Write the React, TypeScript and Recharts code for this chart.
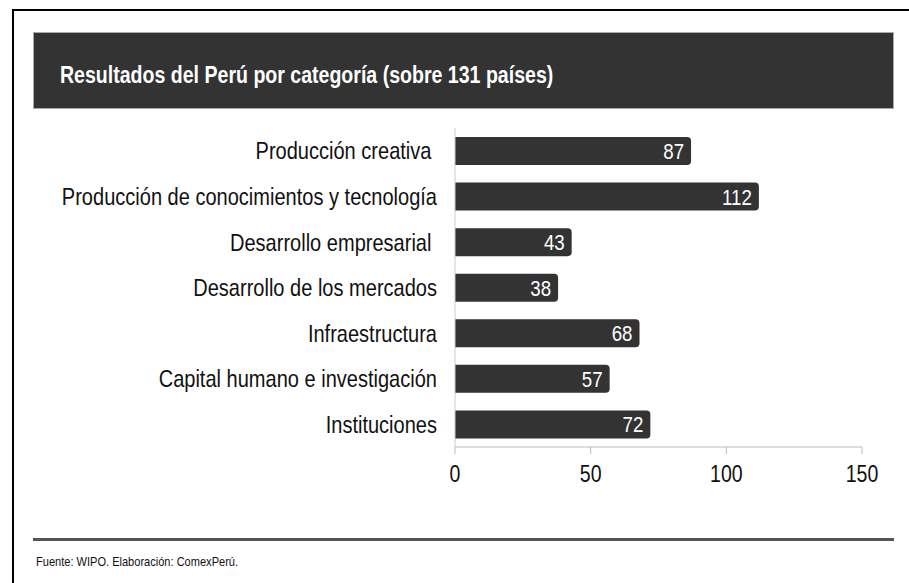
import React from 'react';
import { BarChart, Bar, XAxis, YAxis, LabelList } from 'recharts';

const categories = [
  'Producción creativa\u00a0',
  'Producción de conocimientos y tecnología',
  'Desarrollo empresarial\u00a0',
  'Desarrollo de los mercados',
  'Infraestructura',
  'Capital humano e investigación',
  'Instituciones',
];
const ranks = [87, 112, 43, 38, 68, 57, 72];
const xTicks = [0, 50, 100, 150];
const title = 'Resultados del Perú por categoría (sobre 131 países)';
const source = 'Fuente: WIPO. Elaboración: ComexPerú.';

const data = categories.map((c, i) => ({ name: c, value: ranks[i] }));

const FONT = '"Liberation Sans", Arial, sans-serif';
const SX = 0.85;

const YTick = (props: any) => {
  const { x, y, payload } = props;
  return (
    <g transform={`translate(${x},${y})`}>
      <text transform="scale(0.835,1)" textAnchor="end" dy="0.36em" fontSize={24} fontFamily={FONT} fill="#111">
        {payload.value}
      </text>
    </g>
  );
};

const XTick = (props: any) => {
  const { x, y, payload } = props;
  return (
    <g transform={`translate(${x},${y})`}>
      <text transform={`scale(${SX},1)`} textAnchor="middle" dy="0.71em" fontSize={23} fontFamily={FONT} fill="#111">
        {payload.value}
      </text>
    </g>
  );
};

const ValueLabel = (props: any) => {
  const { x, y, width, height, value } = props;
  const tx = x + width - 7;
  const ty = y + height / 2;
  return (
    <g transform={`translate(${tx},${ty})`}>
      <text transform={`scale(${SX},1)`} textAnchor="end" dy="0.36em" fontSize={22} fontFamily={FONT} fill="#fff">
        {value}
      </text>
    </g>
  );
};

export default function App() {
  return (
    <div style={{ position: 'absolute', left: 0, top: 0, width: 909, height: 583, background: '#fff', overflow: 'hidden', fontFamily: FONT }}>
      <div style={{ position: 'absolute', left: 12, top: 9, width: 920, height: 600, borderLeft: '2px solid #000', borderTop: '2px solid #000' }} />
      <div style={{ position: 'absolute', left: 33, top: 32, width: 859, height: 75, background: '#333', border: '1px solid #aaa' }} />
      <div style={{ position: 'absolute', left: 60, top: 62, color: '#fff', fontWeight: 'bold', fontSize: 23, lineHeight: '26px', whiteSpace: 'nowrap', transform: `scaleX(${SX})`, transformOrigin: 'left center' }}>{title}</div>
      <div style={{ position: 'absolute', left: 0, top: 0 }}>
        <BarChart width={909} height={583} data={data} layout="vertical" margin={{ top: 128, right: 47, bottom: 106, left: 0 }}>
          <XAxis
            type="number"
            domain={[0, 150]}
            ticks={xTicks}
            interval={0}
            axisLine={{ stroke: '#bbb' }}
            tickLine={{ stroke: '#bbb' }}
            tickSize={7}
            tickMargin={12}
            tick={<XTick />}
          />
          <YAxis
            type="category"
            dataKey="name"
            width={455}
            axisLine={{ stroke: '#ccc' }}
            tickLine={false}
            tickSize={0}
            tickMargin={18}
            interval={0}
            tick={<YTick />}
          />
          <Bar dataKey="value" fill="#333" barSize={28} radius={[0, 4, 4, 0]} isAnimationActive={false}>
            <LabelList dataKey="value" content={<ValueLabel />} />
          </Bar>
        </BarChart>
      </div>
      <div style={{ position: 'absolute', left: 33, top: 538, width: 861, height: 3, background: '#555' }} />
      <div style={{ position: 'absolute', left: 36, top: 554, color: '#111', fontSize: 13, lineHeight: '16px', whiteSpace: 'nowrap', transform: `scaleX(${SX})`, transformOrigin: 'left center' }}>{source}</div>
    </div>
  );
}
